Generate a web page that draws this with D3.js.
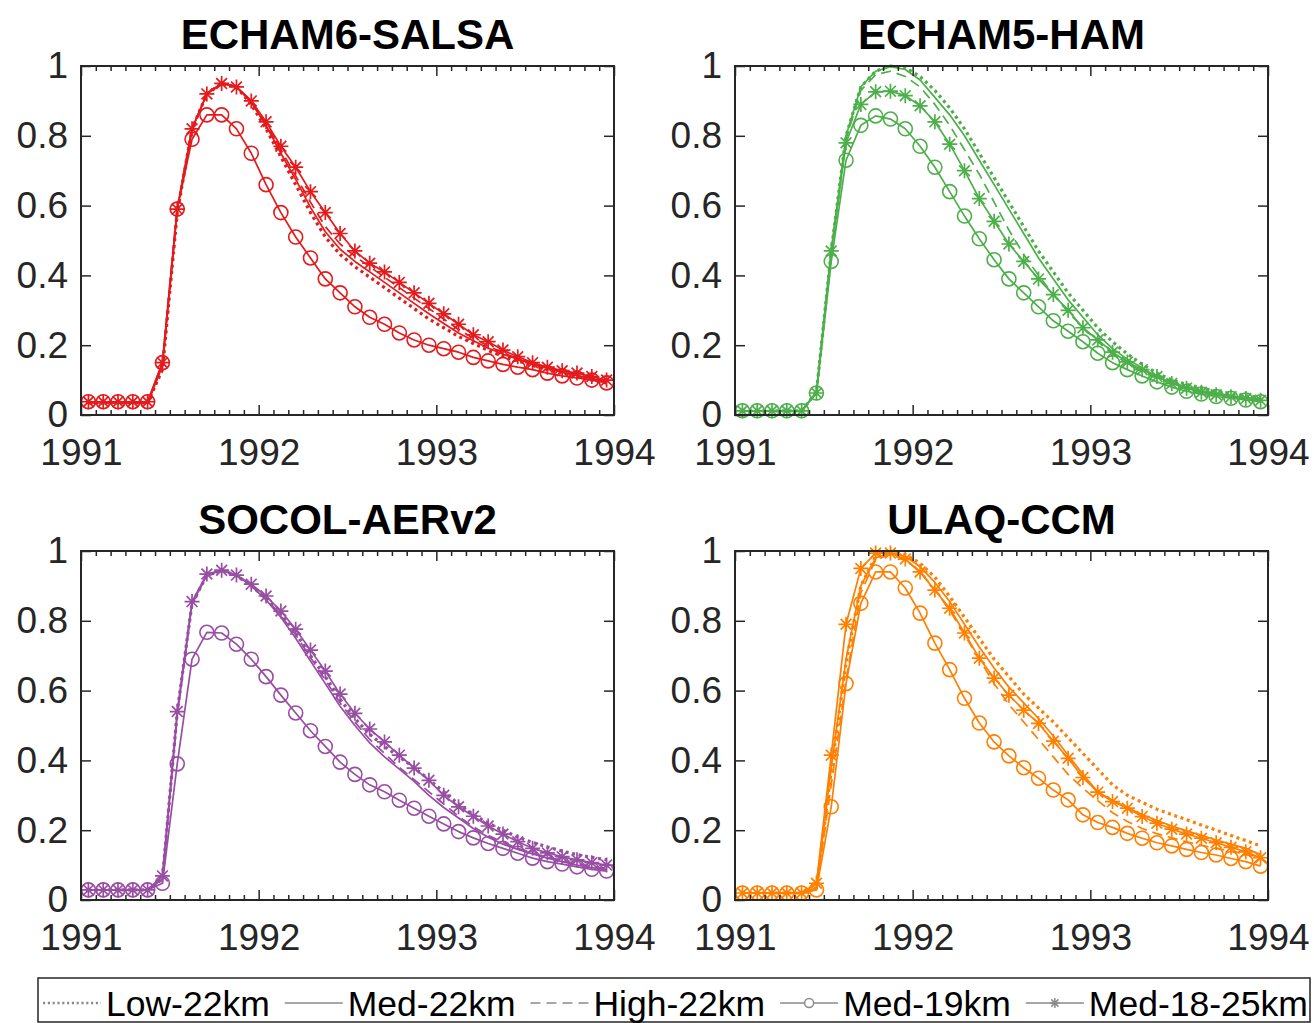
<!DOCTYPE html>
<html>
<head>
<meta charset="utf-8">
<script src="https://cdn.jsdelivr.net/npm/d3@7"></script>
<style>
  body { margin: 0; background: #fff; }
  svg { display: block; font-family: "Liberation Sans", Arial, Helvetica, sans-serif; }
</style>
</head>
<body>
<div id="chart"></div>
<script>
// tick values
const years = [1991, 1992, 1993, 1994]
const yTicks = [0, 0.2, 0.4, 0.6, 0.8, 1]

const models = ["ECHAM6-SALSA", "ECHAM5-HAM", "SOCOL-AERv2", "ULAQ-CCM"]
const colors = ["#e41a1c", "#4daf4a", "#984ea3", "#ff7f00"]
const scenarios = ["Low-22km", "Med-22km", "High-22km", "Med-19km", "Med-18-25km"]

// monthly values, Jan 1991 .. Dec 1993 (mid-month)
const salsaLow  = [0.035,0.035,0.035,0.035,0.035,0.13,0.58,0.82,0.92,0.95,0.94,0.89,0.82,0.74,0.66,0.58,0.51,0.46,0.425,0.395,0.365,0.335,0.305,0.275,0.25,0.225,0.205,0.185,0.168,0.155,0.142,0.13,0.12,0.11,0.1,0.092]
const salsaMed  = [0.035,0.035,0.035,0.035,0.035,0.14,0.59,0.82,0.92,0.95,0.94,0.895,0.83,0.75,0.675,0.595,0.525,0.475,0.44,0.41,0.38,0.35,0.32,0.29,0.262,0.235,0.213,0.192,0.174,0.16,0.146,0.134,0.123,0.113,0.104,0.095]
const salsaHigh = [0.035,0.035,0.035,0.035,0.035,0.14,0.59,0.82,0.92,0.95,0.94,0.9,0.835,0.76,0.685,0.61,0.54,0.49,0.455,0.425,0.395,0.365,0.335,0.305,0.275,0.245,0.22,0.198,0.178,0.162,0.148,0.136,0.125,0.115,0.105,0.097]
const salsa19   = [0.038,0.038,0.038,0.038,0.038,0.15,0.59,0.79,0.86,0.86,0.82,0.75,0.66,0.58,0.51,0.45,0.39,0.35,0.31,0.28,0.26,0.235,0.215,0.2,0.19,0.18,0.165,0.155,0.145,0.137,0.13,0.12,0.112,0.106,0.1,0.092]
const salsa1825 = [0.038,0.038,0.038,0.038,0.038,0.15,0.59,0.82,0.92,0.95,0.94,0.9,0.84,0.77,0.71,0.64,0.58,0.52,0.47,0.435,0.41,0.38,0.35,0.32,0.29,0.26,0.23,0.21,0.186,0.167,0.15,0.137,0.127,0.12,0.11,0.1]

const hamLow  = [0.012,0.012,0.012,0.012,0.012,0.065,0.47,0.8,0.94,0.985,1.0,0.995,0.97,0.93,0.88,0.82,0.75,0.68,0.61,0.54,0.47,0.41,0.35,0.3,0.25,0.21,0.175,0.145,0.12,0.1,0.088,0.077,0.068,0.06,0.055,0.05]
const hamMed  = [0.012,0.012,0.012,0.012,0.012,0.065,0.47,0.8,0.94,0.985,0.998,0.99,0.96,0.91,0.86,0.8,0.73,0.66,0.59,0.52,0.45,0.39,0.33,0.28,0.23,0.19,0.16,0.135,0.11,0.093,0.08,0.07,0.062,0.055,0.05,0.046]
const hamHigh = [0.012,0.012,0.012,0.012,0.012,0.065,0.46,0.79,0.93,0.975,0.985,0.97,0.94,0.89,0.83,0.76,0.69,0.61,0.53,0.46,0.4,0.345,0.295,0.25,0.21,0.175,0.148,0.125,0.105,0.09,0.077,0.067,0.06,0.053,0.048,0.044]
const ham19   = [0.012,0.012,0.012,0.012,0.012,0.063,0.44,0.73,0.83,0.857,0.848,0.82,0.77,0.71,0.64,0.57,0.505,0.445,0.39,0.35,0.31,0.27,0.24,0.21,0.177,0.15,0.13,0.112,0.095,0.08,0.068,0.06,0.053,0.048,0.043,0.038]
const ham1825 = [0.012,0.012,0.012,0.012,0.012,0.063,0.47,0.78,0.89,0.926,0.928,0.915,0.886,0.84,0.776,0.7,0.62,0.555,0.49,0.44,0.39,0.345,0.3,0.25,0.215,0.18,0.152,0.13,0.11,0.09,0.077,0.065,0.058,0.052,0.047,0.042]

const socolLow  = [0.029,0.029,0.029,0.029,0.029,0.06,0.54,0.85,0.93,0.945,0.93,0.9,0.865,0.82,0.765,0.7,0.64,0.575,0.52,0.475,0.44,0.41,0.38,0.345,0.31,0.275,0.245,0.22,0.2,0.18,0.165,0.152,0.14,0.13,0.122,0.115]
const socolMed  = [0.029,0.029,0.029,0.029,0.029,0.06,0.53,0.85,0.93,0.945,0.93,0.9,0.86,0.81,0.75,0.685,0.62,0.555,0.5,0.45,0.41,0.375,0.34,0.3,0.265,0.235,0.205,0.18,0.16,0.145,0.132,0.12,0.11,0.1,0.093,0.087]
const socolHigh = [0.029,0.029,0.029,0.029,0.029,0.06,0.53,0.85,0.93,0.945,0.93,0.9,0.865,0.815,0.76,0.695,0.63,0.565,0.51,0.46,0.42,0.38,0.345,0.31,0.275,0.24,0.21,0.185,0.165,0.148,0.135,0.123,0.113,0.104,0.097,0.09]
const socol19   = [0.029,0.029,0.029,0.029,0.029,0.048,0.39,0.69,0.767,0.765,0.733,0.69,0.64,0.587,0.536,0.485,0.44,0.395,0.36,0.33,0.31,0.286,0.263,0.24,0.218,0.196,0.178,0.162,0.148,0.134,0.12,0.11,0.103,0.095,0.088,0.083]
const socol1825 = [0.029,0.029,0.029,0.029,0.029,0.069,0.54,0.855,0.934,0.945,0.931,0.905,0.871,0.828,0.776,0.716,0.656,0.59,0.535,0.49,0.453,0.415,0.378,0.343,0.3,0.267,0.24,0.212,0.189,0.167,0.148,0.135,0.124,0.115,0.107,0.1]

const ulaqLow  = [0.02,0.02,0.02,0.02,0.02,0.035,0.37,0.68,0.9,0.985,1.0,0.99,0.965,0.925,0.87,0.81,0.75,0.69,0.64,0.59,0.55,0.51,0.465,0.42,0.375,0.33,0.3,0.28,0.26,0.245,0.23,0.215,0.2,0.185,0.17,0.155]
const ulaqMed  = [0.02,0.02,0.02,0.02,0.02,0.035,0.38,0.69,0.9,0.98,0.995,0.985,0.955,0.91,0.855,0.79,0.725,0.665,0.61,0.565,0.52,0.47,0.415,0.36,0.31,0.285,0.265,0.245,0.228,0.212,0.198,0.185,0.172,0.16,0.148,0.13]
const ulaqHigh = [0.02,0.02,0.02,0.02,0.02,0.03,0.33,0.63,0.88,0.975,0.99,0.975,0.94,0.89,0.83,0.76,0.69,0.62,0.56,0.51,0.46,0.41,0.36,0.32,0.285,0.25,0.225,0.205,0.19,0.178,0.167,0.157,0.148,0.14,0.132,0.122]
const ulaq19   = [0.02,0.02,0.02,0.02,0.02,0.029,0.267,0.62,0.85,0.94,0.94,0.894,0.822,0.736,0.66,0.578,0.507,0.453,0.413,0.379,0.349,0.315,0.287,0.244,0.222,0.208,0.191,0.177,0.164,0.155,0.145,0.136,0.129,0.119,0.11,0.097]
const ulaq1825 = [0.02,0.02,0.02,0.02,0.02,0.048,0.415,0.79,0.95,0.994,0.994,0.977,0.94,0.888,0.836,0.765,0.693,0.636,0.587,0.544,0.506,0.455,0.406,0.351,0.309,0.282,0.263,0.239,0.22,0.203,0.189,0.177,0.164,0.151,0.138,0.121]

const panels = [
  [salsaLow, salsaMed, salsaHigh, salsa19, salsa1825],
  [hamLow, hamMed, hamHigh, ham19, ham1825],
  [socolLow, socolMed, socolHigh, socol19, socol1825],
  [ulaqLow, ulaqMed, ulaqHigh, ulaq19, ulaq1825]
]

const width = 1314
const height = 1023
const pw = 533, ph = 349
const origins = [[81, 66], [735, 66], [81, 551], [735, 551]]

// line style per scenario
const styles = [
  {dash: "3 3.6", sw: 3.2, marker: null},
  {dash: null, sw: 1.7, marker: null},
  {dash: "10 6", sw: 1.7, marker: null},
  {dash: null, sw: 1.7, marker: "circle"},
  {dash: null, sw: 1.7, marker: "star"}
]

const axisCol = "#262626"

const svg = d3.select("#chart").append("svg")
  .attr("width", width)
  .attr("height", height)

const x = d3.scaleLinear().domain([1991, 1994]).range([0, pw])
const y = d3.scaleLinear().domain([0, 1]).range([ph, 0])
const monthX = i => x(1991 + (i + 0.5) / 12)
const minorTicks = d3.range(1, 36).filter(m => m % 12 != 0).map(m => 1991 + m / 12)

function starPath(r) {
  const d = r * 0.72
  return `M${-r},0H${r}M0,${-r}V${r}M${-d},${-d}L${d},${d}M${-d},${d}L${d},${-d}`
}

function styleAxis(g) {
  g.select(".domain").remove()
  g.selectAll("line").attr("stroke", axisCol).attr("stroke-width", 1.5)
  g.selectAll("text").attr("fill", axisCol).style("font-size", "37px")
}

panels.forEach((series, p) => {
  const g = svg.append("g").attr("transform", `translate(${origins[p][0]},${origins[p][1]})`)
  const col = colors[p]

  // lines
  series.forEach((vals, s) => {
    const st = styles[s]
    g.append("path")
      .datum(vals)
      .attr("fill", "none")
      .attr("stroke", col)
      .attr("stroke-width", st.sw)
      .attr("stroke-dasharray", st.dash)
      .attr("stroke-linejoin", "round")
      .attr("d", d3.line().x((d, i) => monthX(i)).y(d => y(d)))

    if (st.marker == "circle") {
      g.selectAll(null).data(vals).join("circle")
        .attr("cx", (d, i) => monthX(i))
        .attr("cy", d => y(d))
        .attr("r", 7)
        .attr("fill", "none")
        .attr("stroke", col)
        .attr("stroke-width", 1.6)
    }
    if (st.marker == "star") {
      g.selectAll(null).data(vals).join("path")
        .attr("transform", (d, i) => `translate(${monthX(i)},${y(d)})`)
        .attr("d", starPath(7.5))
        .attr("fill", "none")
        .attr("stroke", col)
        .attr("stroke-width", 1.7)
    }
  })

  // axes (ticks inward, MATLAB style box)
  g.append("g").attr("transform", `translate(0,${ph})`)
    .call(d3.axisBottom(x).tickValues(years).tickFormat(d3.format("d")).tickSize(-10).tickPadding(24))
    .call(styleAxis)
  g.append("g").attr("transform", `translate(0,${ph})`)
    .call(d3.axisBottom(x).tickValues(minorTicks).tickFormat("").tickSize(-5))
    .call(styleAxis)
  g.append("g")
    .call(d3.axisTop(x).tickValues(years).tickFormat("").tickSize(-10))
    .call(styleAxis)
  g.append("g")
    .call(d3.axisTop(x).tickValues(minorTicks).tickFormat("").tickSize(-5))
    .call(styleAxis)
  g.append("g")
    .call(d3.axisLeft(y).tickValues(yTicks).tickFormat(d => d3.format("")(d)).tickSize(-10).tickPadding(13))
    .call(styleAxis)
  g.append("g").attr("transform", `translate(${pw},0)`)
    .call(d3.axisRight(y).tickValues(yTicks).tickFormat("").tickSize(-10))
    .call(styleAxis)

  g.append("rect")
    .attr("width", pw).attr("height", ph)
    .attr("fill", "none")
    .attr("stroke", axisCol)
    .attr("stroke-width", 2)

  // title
  g.append("text")
    .attr("x", pw / 2)
    .attr("y", -17)
    .attr("text-anchor", "middle")
    .style("font-size", "42px")
    .style("font-weight", "bold")
    .attr("fill", "#000")
    .text(models[p])
})

// legend
const leg = svg.append("g")
leg.append("rect")
  .attr("x", 38).attr("y", 978)
  .attr("width", 1272).attr("height", 44)
  .attr("fill", "#fff")
  .attr("stroke", axisCol)
  .attr("stroke-width", 1.5)

let lx = 43
const ly = 1003
scenarios.forEach((name, s) => {
  const st = styles[s]
  const sampleLen = 58
  leg.append("line")
    .attr("x1", lx).attr("x2", lx + sampleLen)
    .attr("y1", ly).attr("y2", ly)
    .attr("stroke", "#8a8a8a")
    .attr("stroke-width", s == 0 ? 2.6 : 1.7)
    .attr("stroke-dasharray", s == 0 ? "2.2 2.6" : st.dash)
  if (st.marker == "circle") {
    leg.append("circle")
      .attr("cx", lx + sampleLen / 2).attr("cy", ly).attr("r", 4.5)
      .attr("fill", "#fff").attr("stroke", "#8a8a8a").attr("stroke-width", 1.5)
  }
  if (st.marker == "star") {
    leg.append("path")
      .attr("transform", `translate(${lx + sampleLen / 2},${ly})`)
      .attr("d", starPath(5))
      .attr("fill", "none").attr("stroke", "#8a8a8a").attr("stroke-width", 1.5)
  }
  const t = leg.append("text")
    .attr("x", lx + sampleLen + 5)
    .attr("y", 1016)
    .style("font-size", "35.5px")
    .attr("fill", "#000")
    .text(name)
  lx = lx + sampleLen + 5 + t.node().getComputedTextLength() + 15
})
</script>
</body>
</html>
